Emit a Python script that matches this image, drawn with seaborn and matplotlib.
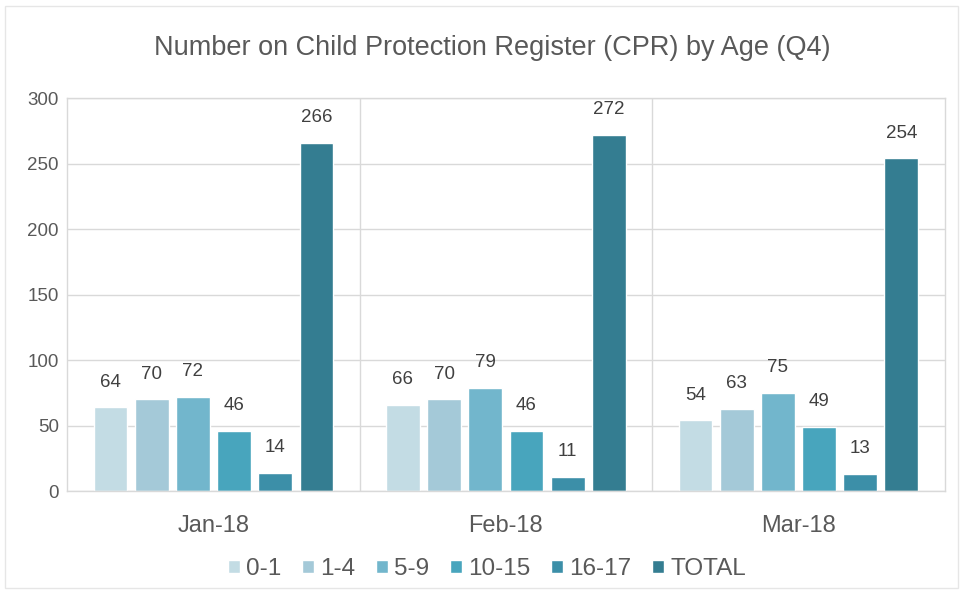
import matplotlib
matplotlib.use("Agg")
import matplotlib.pyplot as plt
import seaborn as sns
import pandas as pd
from matplotlib.patches import Rectangle

months = ["Jan-18", "Feb-18", "Mar-18"]
groups = ["0-1", "1-4", "5-9", "10-15", "16-17", "TOTAL"]
v_0_1 = [64, 66, 54]
v_1_4 = [70, 70, 63]
v_5_9 = [72, 79, 75]
v_10_15 = [46, 46, 49]
v_16_17 = [14, 11, 13]
v_total = [266, 272, 254]
colors = ["#c3dce4", "#a4c9d8", "#72b6cc", "#48a5bd", "#3c8fa8", "#347d91"]

series = [v_0_1, v_1_4, v_5_9, v_10_15, v_16_17, v_total]
rows = []
for g, vals in zip(groups, series):
    for m, v in zip(months, vals):
        rows.append({"Month": m, "Age": g, "Value": v})
df = pd.DataFrame(rows)

sns.set_theme(style="white")
plt.rcParams["font.family"] = ["Liberation Sans", "DejaVu Sans"]

fig = plt.figure(figsize=(9.6, 5.91), dpi=100)
ax = fig.add_axes([0.070, 0.169, 0.914, 0.665])

sns.barplot(data=df, x="Month", y="Value", hue="Age", order=months,
            hue_order=groups, palette=colors, width=0.845, gap=0.18,
            saturation=1, ax=ax, legend=True)

for cont in ax.containers:
    ax.bar_label(cont, padding=12, fontsize=13.5, color="#404040")

ax.set_ylim(0, 300)
ax.set_yticks(range(0, 301, 50))
ax.set_xlim(-0.5, 2.5)
ax.set_xlabel("")
ax.set_ylabel("")
ax.tick_params(axis="both", length=0, labelsize=13.5, colors="#595959")
ax.tick_params(axis="y", pad=6)
ax.tick_params(axis="x", pad=17, labelsize=17)
ax.set_axisbelow(True)
ax.yaxis.grid(True, color="#d9d9d9", linewidth=1)
ax.set_xticks([0.5, 1.5], minor=True)
ax.xaxis.grid(True, which="minor", color="#d9d9d9", linewidth=1)
for s in ax.spines.values():
    s.set_visible(True)
    s.set_color("#d9d9d9")
    s.set_linewidth(1)

handles, labels = ax.get_legend_handles_labels()
ax.legend_.remove()
fig.legend(handles, labels, loc="center", bbox_to_anchor=(0.507, 0.037),
           ncol=6, frameon=False, fontsize=17.5, handlelength=0.5,
           handleheight=0.5, handletextpad=0.25, columnspacing=0.85,
           labelcolor="#595959")

fig.suptitle("Number on Child Protection Register (CPR) by Age (Q4)",
             x=0.513, y=0.94, fontsize=19.5, color="#595959")

fig.patches.append(Rectangle((0.005, 0.005), 0.993, 0.985, transform=fig.transFigure,
                             fill=False, edgecolor="#e6e6e6", linewidth=1))

fig.savefig("out.png", dpi=100)
